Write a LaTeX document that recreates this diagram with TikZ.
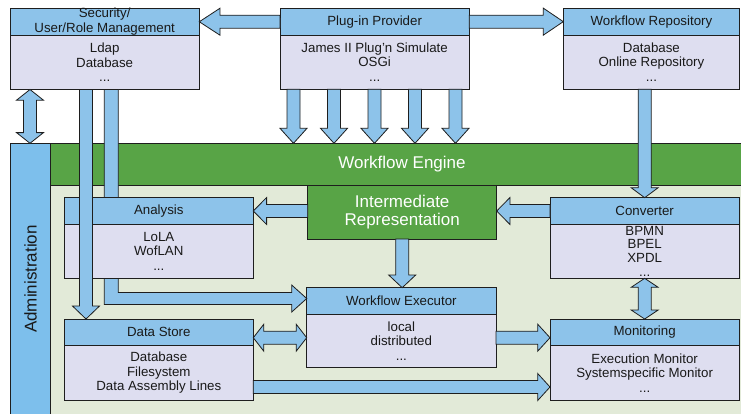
\documentclass[tikz,border=0pt]{standalone}
\usepackage{fontspec}
\setmainfont{Liberation Sans}
\usetikzlibrary{calc}
\definecolor{hblue}{RGB}{141,195,234}
\definecolor{ablue}{RGB}{125,191,236}
\definecolor{lav}{RGB}{222,222,240}
\definecolor{wfgreen}{RGB}{88,164,70}
\definecolor{lgreen}{RGB}{226,234,216}
\definecolor{edge}{RGB}{30,30,30}
\newcommand\fsA{\fontsize{13.3}{14.5}\selectfont}
\newcommand\fsB{\fontsize{17}{18.5}\selectfont}
\newcommand\fsC{\fontsize{13.3}{13.8}\selectfont}
\tikzset{
  hdr/.style={draw=edge, fill=hblue, line width=0.8pt, inner sep=0pt, outer sep=0pt,
    font=\fsA, text=black!90, align=center, anchor=north west},
  bdy/.style={draw=edge, fill=lav, line width=0.8pt, inner sep=0pt, outer sep=0pt,
    font=\fsA, text=black!90, align=center, anchor=north},
  blk/.style={draw=edge, fill=hblue, line width=0.8pt, line join=miter},
  region/.style={draw=edge, line width=0.8pt, inner sep=0pt, outer sep=0pt, anchor=north west},
}
\newcommand\diabox[9][]{%
  \node[hdr, minimum width=#5pt, minimum height=#6pt] (#2h) at (#3,#4) {#8};
  \node[bdy, minimum width=#5pt, minimum height=#7pt, #1] (#2b) at (#2h.south) {#9};
}
\newcommand\blkarrow[3]{%
  \path (#2) coordinate (ba) (#3) coordinate (bb);
  \path ($(bb)!#1pt!(ba)$) coordinate (bh);
  \draw[blk] ($(ba)!6.5pt!90:(bb)$) -- ($(bh)!6.5pt!90:(bb)$) -- ($(bh)!13.5pt!90:(bb)$)
    -- (bb) -- ($(bh)!13.5pt!-90:(bb)$) -- ($(bh)!6.5pt!-90:(bb)$)
    -- ($(ba)!6.5pt!-90:(bb)$) -- cycle;
}
\newcommand\dblarrow[3]{%
  \path (#2) coordinate (ba) (#3) coordinate (bb);
  \path ($(bb)!#1pt!(ba)$) coordinate (bh) ($(ba)!#1pt!(bb)$) coordinate (bg);
  \draw[blk] (ba) -- ($(bg)!13.5pt!90:(bb)$) -- ($(bg)!6.5pt!90:(bb)$)
    -- ($(bh)!6.5pt!90:(bb)$) -- ($(bh)!13.5pt!90:(bb)$) -- (bb)
    -- ($(bh)!13.5pt!-90:(bb)$) -- ($(bh)!6.5pt!-90:(bb)$)
    -- ($(bg)!6.5pt!-90:(bb)$) -- ($(bg)!13.5pt!-90:(bb)$) -- cycle;
}
\begin{document}
\begin{tikzpicture}[x=1pt, y=-1pt]
\useasboundingbox (0,0) rectangle (741,413);
\fill[white] (0,0) rectangle (741,413);
% regions
\node[region, fill=lgreen, minimum width=691pt, minimum height=230pt] (inner) at (50,185) {};
\node[region, fill=wfgreen, minimum width=691pt, minimum height=41.7pt] (engine) at (50,143.3) {};
\node[font=\fsB, text=white] (enginelabel) at (402,164) {Workflow Engine};
\node[region, fill=ablue, minimum width=40pt, minimum height=272pt] (admin) at (10,143.3) {};
\node[font=\fsB, text=black!90, rotate=90] (adminlabel) at (30.5,279) {Administration};
% helper coordinates
\coordinate (p1) at (293.5,0);
\coordinate (p2) at (334,0);
\coordinate (p3) at (374.5,0);
\coordinate (p4) at (415,0);
\coordinate (p5) at (455.5,0);
\coordinate (xa) at (86,0);
\coordinate (xb) at (111.3,0);
\coordinate (ya) at (0,337.7);
\coordinate (yb) at (0,387);
\coordinate (yc) at (0,298.5);
% top boxes
\diabox{sec}{10}{8.3}{189.3}{26.7}{54.3}{Security/\\User/Role Management}{Ldap\\Database\\...}
\diabox{plug}{280}{8.3}{189.3}{26.7}{54.3}{Plug-in Provider}{James II Plug\char"27 n Simulate\\OSGi\\...}
\diabox{repo}{563.3}{8.3}{176.2}{26.7}{54.3}{Workflow Repository}{Database\\Online Repository\\...}
% executor box first (L arrow ends there)
\diabox{exec}{306.7}{287.7}{189.3}{26.3}{53.7}{Workflow Executor}{local\\distributed\\...}
% L-shaped arrow (behind Analysis)
\draw[blk] ($(secb.south -| xb)+(-7,0)$) -- ($(xb |- yc)+(-7,6)$)
  -- ($(exech.west |- yc)+(-15,6)$) -- ($(exech.west |- yc)+(-15,13.5)$)
  -- (exech.west |- yc) -- ($(exech.west |- yc)+(-15,-13.5)$)
  -- ($(exech.west |- yc)+(-15,-6)$) -- ($(xb |- yc)+(7,-6)$)
  -- ($(secb.south -| xb)+(7,0)$) -- cycle;
% middle and lower boxes
\diabox{ana}{64.3}{197.7}{189}{26.6}{54}{Analysis}{LoLA\\WofLAN\\...}
\diabox[font=\fsC]{conv}{550}{197.7}{189.3}{26.6}{54}{Converter}{BPMN\\BPEL\\XPDL\\...}
\diabox{ds}{64.3}{319}{189}{26.7}{54.3}{Data Store}{Database\\Filesystem\\Data Assembly Lines}
\diabox{mon}{550}{319}{189.3}{26.7}{54.3}{Monitoring}{Execution Monitor\\Systemspecific Monitor\\...}
\node[region, fill=wfgreen, minimum width=189pt, minimum height=54pt, font=\fsB,
  text=white, align=center] (ir) at (307.7,185) {Intermediate\\Representation};
% arrows
\blkarrow{13}{secb.south -| xa}{dsh.north -| xa}
\blkarrow{20.7}{plugh.west}{sech.east}
\blkarrow{20}{plugh.east}{repoh.west}
\dblarrow{10.7}{admin.north |- secb.south}{admin.north}
\blkarrow{15}{plugb.south -| p1}{engine.north -| p1}
\blkarrow{15}{plugb.south -| p2}{engine.north -| p2}
\blkarrow{15}{plugb.south -| p3}{engine.north -| p3}
\blkarrow{15}{plugb.south -| p4}{engine.north -| p4}
\blkarrow{15}{plugb.south -| p5}{engine.north -| p5}
\blkarrow{10}{repob.south -| convh.north}{convh.north}
\blkarrow{13.3}{ir.west |- anah.east}{anah.east}
\blkarrow{13.3}{convh.west}{ir.east |- convh.west}
\blkarrow{12.7}{ir.south}{ir.south |- exech.north}
\dblarrow{9}{convb.south}{monh.north}
\dblarrow{10.5}{dsh.east |- ya}{exech.west |- ya}
\blkarrow{12.3}{execb.east |- ya}{monh.west |- ya}
\blkarrow{12.3}{dsb.east |- yb}{monb.west |- yb}
\end{tikzpicture}
\end{document}
